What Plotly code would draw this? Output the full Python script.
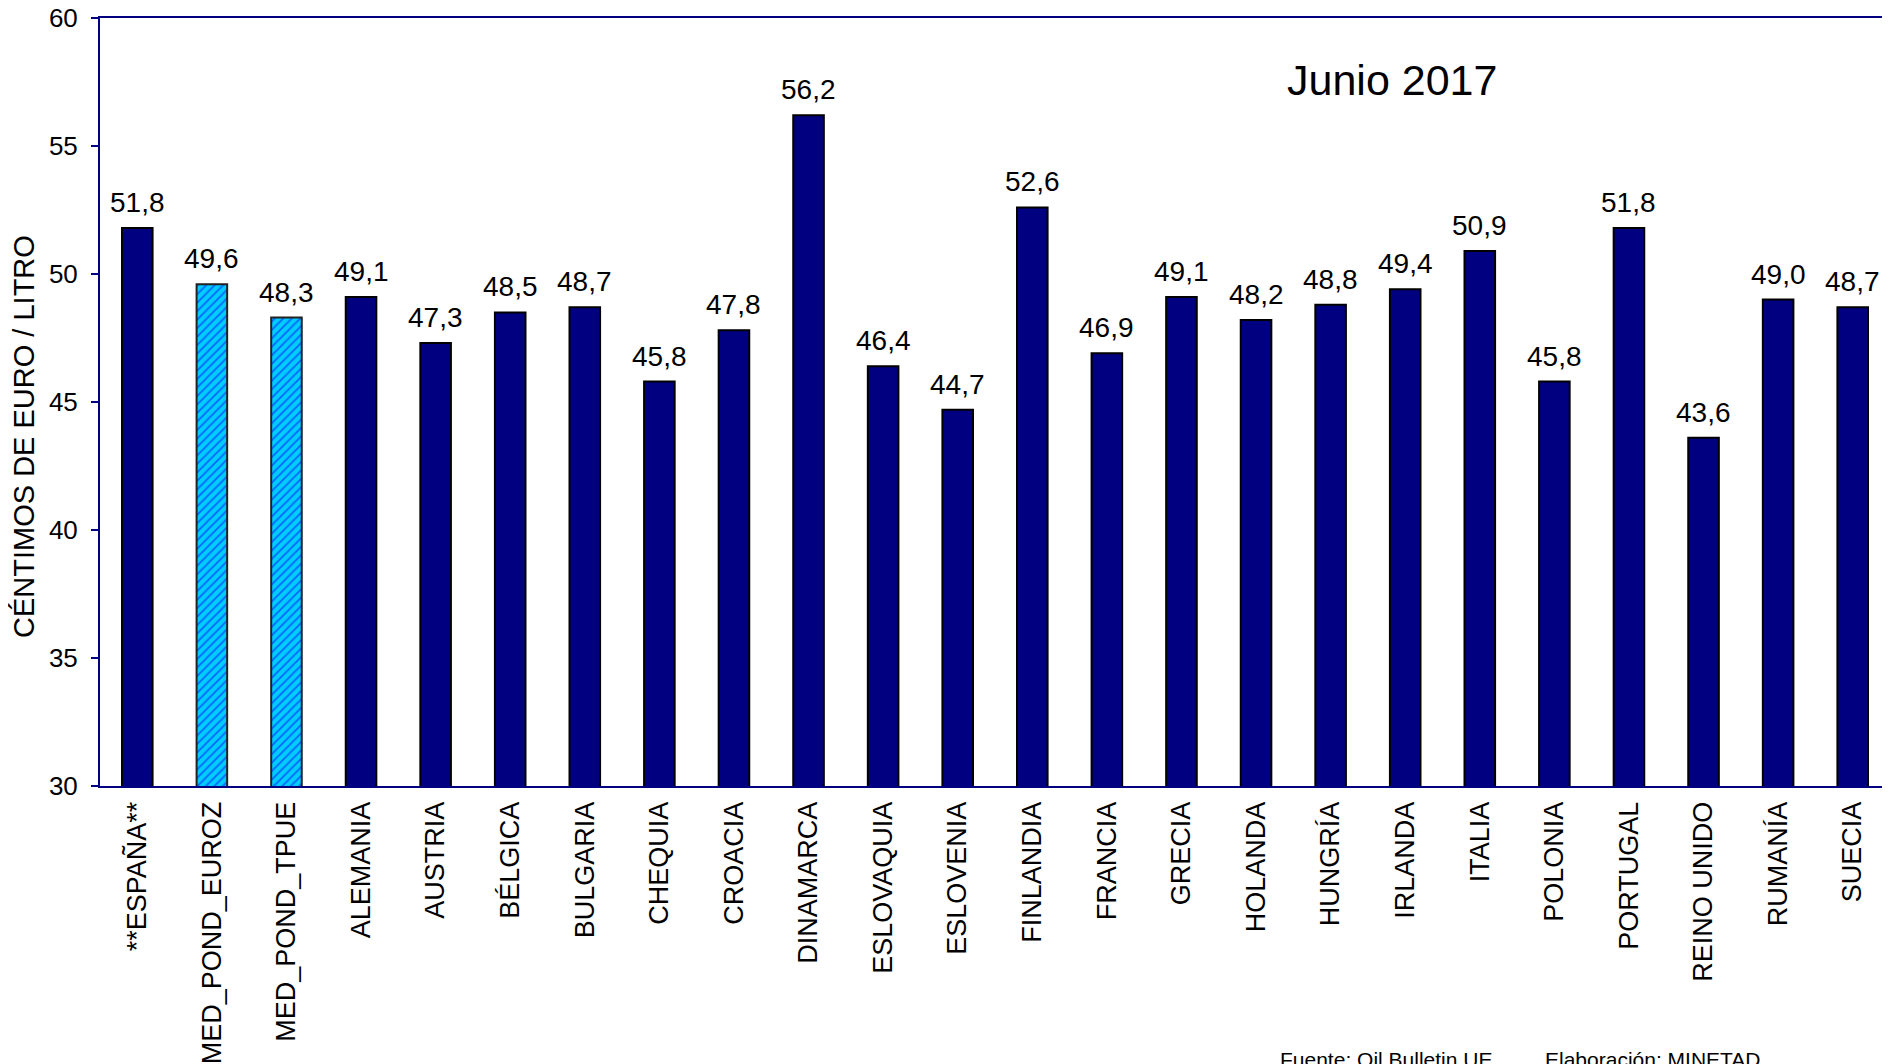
import plotly.graph_objects as go

categories = ["**ESPAÑA**", "MED_POND_EUROZ", "MED_POND_TPUE", "ALEMANIA", "AUSTRIA",
              "BÉLGICA", "BULGARIA", "CHEQUIA", "CROACIA", "DINAMARCA", "ESLOVAQUIA",
              "ESLOVENIA", "FINLANDIA", "FRANCIA", "GRECIA", "HOLANDA", "HUNGRÍA",
              "IRLANDA", "ITALIA", "POLONIA", "PORTUGAL", "REINO UNIDO", "RUMANÍA", "SUECIA"]
values = [51.8, 49.6, 48.3, 49.1, 47.3, 48.5, 48.7, 45.8, 47.8, 56.2, 46.4,
          44.7, 52.6, 46.9, 49.1, 48.2, 48.8, 49.4, 50.9, 45.8, 51.8, 43.6, 49.0, 48.7]
averages = ["MED_POND_EUROZ", "MED_POND_TPUE"]
y_ticks = [30, 35, 40, 45, 50, 55, 60]

title_text = "Junio 2017"
y_title = "CÉNTIMOS DE EURO / LITRO"
source_text = "Fuente: Oil Bulletin UE"
credit_text = "Elaboración: MINETAD"

NAVY = "#000080"
CYAN = "#00CCFF"
FONT = "Liberation Sans, Arial, sans-serif"

fig = go.Figure()

main_x = [c for c in categories if c not in averages]
main_y = [v for c, v in zip(categories, values) if c not in averages]
avg_x = [c for c in categories if c in averages]
avg_y = [v for c, v in zip(categories, values) if c in averages]

fig.add_trace(go.Bar(
    x=main_x, y=main_y, width=0.41,
    marker=dict(color=NAVY, line=dict(color="black", width=2)),
    hoverinfo="skip", showlegend=False,
))
fig.add_trace(go.Bar(
    x=avg_x, y=avg_y, width=0.41,
    marker=dict(color=CYAN, line=dict(color="#222222", width=2),
                pattern=dict(shape="/", fgcolor="#0000FF", bgcolor=CYAN,
                             size=6, solidity=0.3, fillmode="overlay")),
    hoverinfo="skip", showlegend=False,
))

for c, v in zip(categories, values):
    fig.add_annotation(
        x=c, y=v, xref="x", yref="y", yanchor="bottom", yshift=8,
        text=f"{v:.1f}".replace(".", ","), showarrow=False,
        font=dict(family=FONT, size=28, color="black"),
    )

fig.add_annotation(x=0.7218, y=0.919, xref="paper", yref="paper",
                   xanchor="center", yanchor="middle", text=title_text,
                   showarrow=False, font=dict(family=FONT, size=43, color="black"))
fig.add_annotation(x=-0.0425, y=0.4557, xref="paper", yref="paper",
                   xanchor="center", yanchor="middle", text=y_title, textangle=-90,
                   borderpad=0,
                   showarrow=False, font=dict(family=FONT, size=29, color="black"))
fig.add_annotation(x=0.658, y=-0.339, xref="paper", yref="paper",
                   xanchor="left", yanchor="top", text=source_text,
                   showarrow=False, font=dict(family=FONT, size=21, color="black"))
fig.add_annotation(x=0.806, y=-0.339, xref="paper", yref="paper",
                   xanchor="left", yanchor="top", text=credit_text,
                   showarrow=False, font=dict(family=FONT, size=21, color="black"))

fig.update_layout(
    width=1882, height=1056,
    margin=dict(l=92, r=0, t=10, b=278),
    paper_bgcolor="white", plot_bgcolor="white",
    barmode="overlay",
    font=dict(family=FONT, size=26, color="black"),
    showlegend=False,
)
fig.update_xaxes(
    type="category", categoryorder="array", categoryarray=categories,
    range=[-0.5, len(categories) - 0.5], automargin=False,
    tickangle=-90, tickfont=dict(family=FONT, size=27, color="black"),
    showline=True, linecolor=NAVY, linewidth=2, mirror=True,
    ticks="", showgrid=False, ticklabelstandoff=3,
)
fig.update_yaxes(
    range=[30, 60], tickvals=y_ticks, ticktext=[str(t) for t in y_ticks],
    automargin=False,
    showline=True, linecolor=NAVY, linewidth=2,
    ticks="outside", ticklen=7, tickwidth=2, tickcolor=NAVY,
    tickfont=dict(family=FONT, size=26, color="black"),
    showgrid=False, zeroline=False, ticklabelstandoff=8,
    ticklabeloverflow="allow",
)

fig.write_html("out.html")
